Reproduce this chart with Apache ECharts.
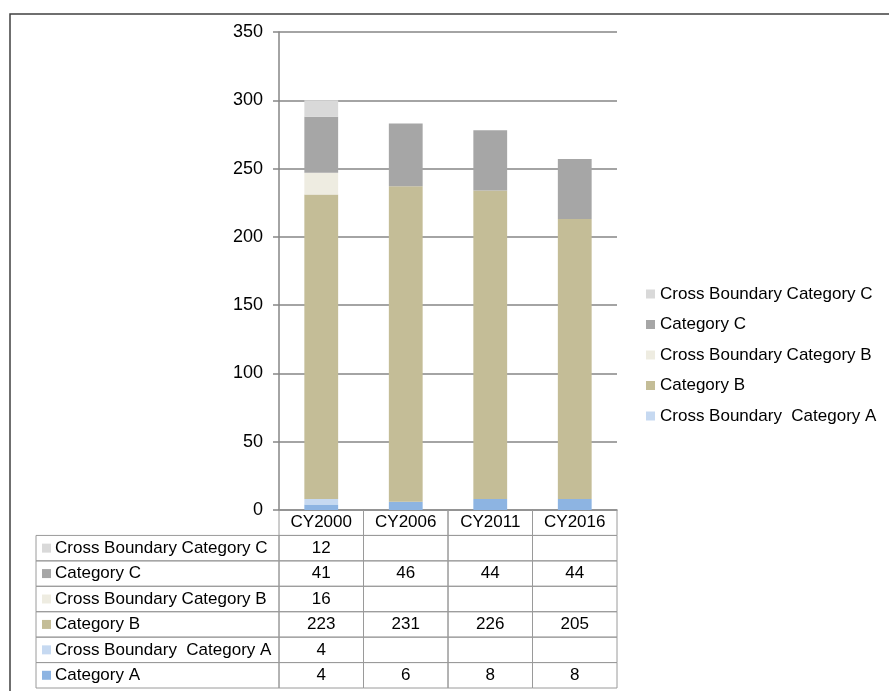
<!DOCTYPE html>
<html>
<head>
<meta charset="utf-8">
<title>Stacked bars with data table</title>
<script src="https://cdn.jsdelivr.net/npm/echarts@6/dist/echarts.min.js"></script>
<style>
  html, body { margin: 0; padding: 0; background: #fff; }
  #chart { width: 889px; height: 691px; }
</style>
</head>
<body>
<div id="chart"></div>
<script>
// chart data
var years = ["CY2000", "CY2006", "CY2011", "CY2016"];
var categoryA = [4, 6, 8, 8];
var crossA = [4, null, null, null];
var categoryB = [223, 231, 226, 205];
var crossB = [16, null, null, null];
var categoryC = [41, 46, 44, 44];
var crossC = [12, null, null, null];

// series from bottom of the stack to the top
var seriesDefs = [
  { name: "Category A", data: categoryA, color: "#8db4e2" },
  { name: "Cross Boundary  Category A", data: crossA, color: "#c6d9f1" },
  { name: "Category B", data: categoryB, color: "#c4bd97" },
  { name: "Cross Boundary Category B", data: crossB, color: "#eeece1" },
  { name: "Category C", data: categoryC, color: "#a6a6a6" },
  { name: "Cross Boundary Category C", data: crossC, color: "#d9d9d9" }
];

var FONT = "Liberation Sans, Arial, sans-serif";
var LABEL_W = 243;
var LINE = "#9a9a9a";

// table rows, top to bottom (reverse of the stack)
var tableRows = seriesDefs.slice().reverse();
var rowNames = ["header"].concat(tableRows.map(function (s) { return s.name; }));

var cells = [];
years.forEach(function (y, i) {
  cells.push({ col: i, row: 0, text: y, kind: "head" });
});
tableRows.forEach(function (s, k) {
  cells.push({ col: 0, row: k + 1, text: s.name, kind: "label", color: s.color });
  s.data.forEach(function (v, i) {
    cells.push({ col: i, row: k + 1, text: v == null ? "" : String(v), kind: "value" });
  });
});

var chart = echarts.init(document.getElementById("chart"));

var barSeries = seriesDefs.map(function (s) {
  return {
    name: s.name,
    type: "bar",
    stack: "total",
    xAxisIndex: 0,
    yAxisIndex: 0,
    barWidth: "40%",
    data: s.data,
    itemStyle: { color: s.color },
    emphasis: { disabled: true }
  };
});

var tableSeries = {
  type: "custom",
  xAxisIndex: 1,
  yAxisIndex: 1,
  clip: false,
  silent: true,
  data: cells.map(function (c) { return [c.col, c.row]; }),
  encode: { x: 0, y: 1 },
  renderItem: function (params, api) {
    var cell = cells[params.dataIndex];
    var p = api.coord([api.value(0), api.value(1)]);
    var s = api.size([1, 1]);
    var x = p[0] - s[0] / 2, y = p[1] - s[1] / 2, w = s[0], h = s[1];
    if (cell.kind === "label") {
      x = x - LABEL_W;
      w = LABEL_W;
      return {
        type: "group",
        children: [
          { type: "rect", shape: { x: x, y: y, width: w, height: h },
            style: { fill: "none", stroke: LINE, lineWidth: 1 } },
          { type: "rect", shape: { x: x + 6, y: y + h / 2 - 4.5, width: 9, height: 9 },
            style: { fill: cell.color } },
          { type: "text", x: x + 19, y: y + h / 2,
            style: { text: cell.text, fill: "#000", font: "17px " + FONT,
                     textAlign: "left", textVerticalAlign: "middle" } }
        ]
      };
    }
    return {
      type: "group",
      children: [
        { type: "rect", shape: { x: x, y: y, width: w, height: h },
          style: { fill: "none", stroke: LINE, lineWidth: 1 } },
        { type: "text", x: x + w / 2, y: y + h / 2,
          style: { text: cell.text, fill: "#000", font: "17px " + FONT,
                   textAlign: "center", textVerticalAlign: "middle" } }
      ]
    };
  }
};

var option = {
  animation: false,
  textStyle: { fontFamily: FONT },
  graphic: [
    { type: "rect", shape: { x: 10, y: 14, width: 1000, height: 1000 },
      style: { fill: "none", stroke: "#404040", lineWidth: 1.5 }, silent: true }
  ],
  legend: {
    orient: "vertical",
    left: 641,
    top: 279,
    itemWidth: 9,
    itemHeight: 9,
    itemGap: 10.5,
    icon: "rect",
    selectedMode: false,
    data: tableRows.slice(0, 5).map(function (s) { return s.name; }),
    textStyle: { fontSize: 17, color: "#000", lineHeight: 20, fontFamily: FONT }
  },
  grid: [
    { left: 279, right: 272, top: 32, bottom: 181 },
    { left: 279, right: 272, top: 510, height: 178 }
  ],
  xAxis: [
    {
      type: "category",
      gridIndex: 0,
      data: years,
      axisLine: { lineStyle: { color: "#868686", width: 1.5 } },
      axisTick: { show: false },
      axisLabel: { show: false }
    },
    {
      type: "category",
      gridIndex: 1,
      data: years,
      show: false
    }
  ],
  yAxis: [
    {
      type: "value",
      gridIndex: 0,
      min: 0,
      max: 350,
      interval: 50,
      axisLine: { show: true, lineStyle: { color: "#868686", width: 1.5 } },
      axisTick: { show: true, length: 6, lineStyle: { color: "#868686", width: 1.5 } },
      axisLabel: { fontSize: 18, color: "#000", margin: 16, fontFamily: FONT },
      splitLine: { show: true, lineStyle: { color: "#868686", width: 1.5 } }
    },
    {
      type: "category",
      gridIndex: 1,
      data: rowNames,
      inverse: true,
      show: false
    }
  ],
  series: barSeries.concat([tableSeries])
};

chart.setOption(option);
</script>
</body>
</html>
